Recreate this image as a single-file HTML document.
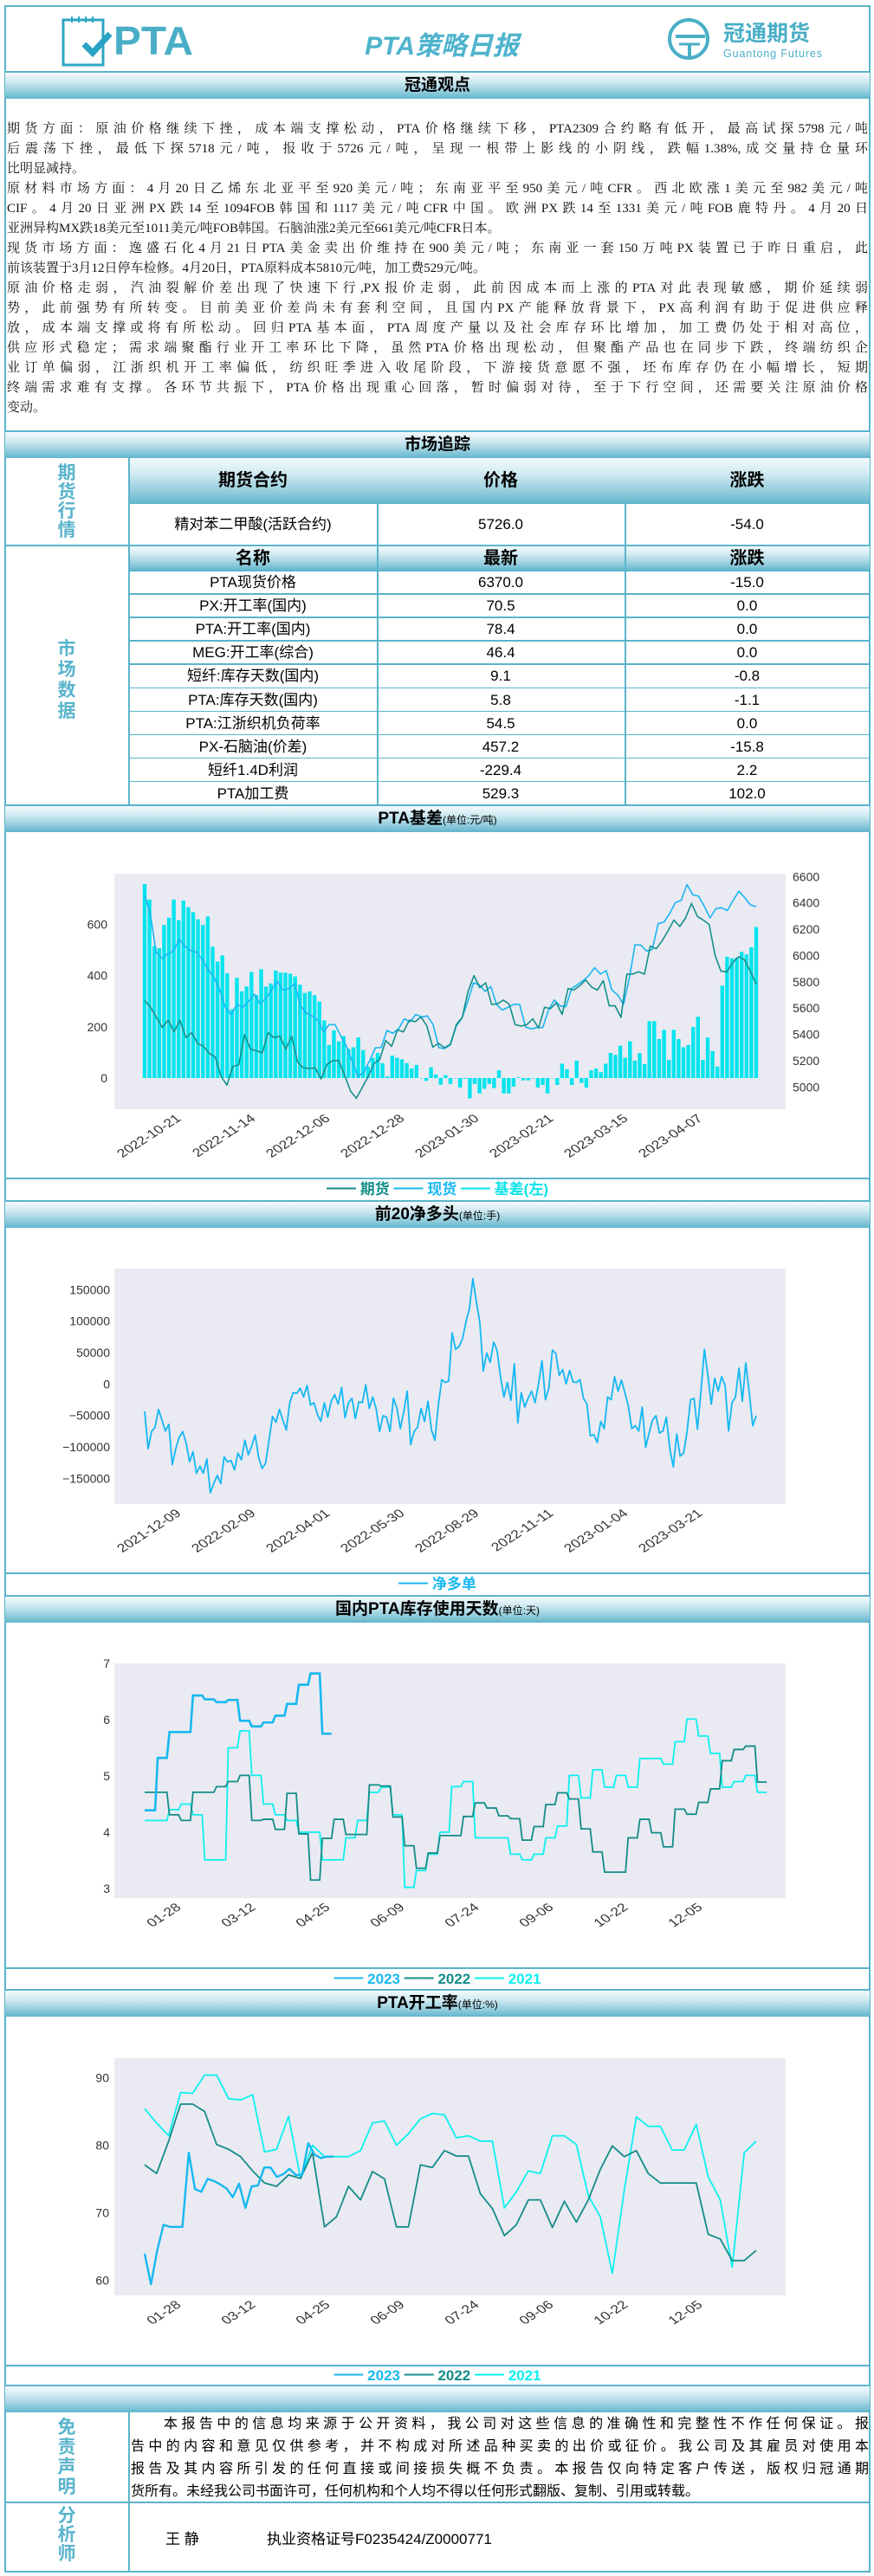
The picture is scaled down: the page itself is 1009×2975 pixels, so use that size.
<!DOCTYPE html>
<html lang="zh"><head><meta charset="utf-8">
<style>
*{margin:0;padding:0;box-sizing:border-box}
body{width:1009px;height:2975px;background:#fff;position:relative;font-family:"Liberation Sans","Noto Sans CJK SC",sans-serif;overflow:hidden}
.abs{position:absolute}
.band{position:absolute;left:6px;width:998px;background:linear-gradient(#f4fbfd,#cfe9f1 35%,#8fcbdc 75%,#62b5cd);text-align:center;font-weight:bold;color:#000;font-size:19px;border-top:2px solid #5ab4cc}
.band small{font-size:12px;font-weight:normal}
.hl{position:absolute;left:6px;width:998px;height:2px;background:#5ab4cc}
.vl{position:absolute;width:1.5px;background:#5ab4cc}
.txt div{white-space:nowrap;text-align:justify;text-align-last:justify;height:23px;line-height:23px}
.txt div.l{text-align-last:left}
.disc div{white-space:nowrap;text-align:justify;text-align-last:justify;height:26px;line-height:26px}
.disc div.l{text-align-last:left}
.cell{position:absolute;text-align:center;font-size:17px;color:#000}
.th{position:absolute;text-align:center;font-weight:bold;font-size:20px;background:linear-gradient(#f4fbfd,#cfe9f1 35%,#8fcbdc 75%,#62b5cd)}
.side{position:absolute;left:6px;width:142px;color:#5ab4cc;font-weight:bold;font-size:21px;text-align:center;line-height:22px}
.leg{position:absolute;left:6px;width:998px;text-align:center;font-weight:bold;font-size:17px}
</style></head><body>
<div class="abs" style="left:5px;top:6px;width:1000px;height:2965px;border:2px solid #5ab4cc"></div>

<div class="abs" style="left:71px;top:17px;width:160px;height:62px">
<svg width="160" height="62">
<rect x="2" y="6" width="46" height="52" fill="none" stroke="#2fa5c4" stroke-width="3"/>
<g stroke="#2fa5c4" stroke-width="2"><line x1="12" y1="2" x2="12" y2="9"/><line x1="20" y1="2" x2="20" y2="9"/><line x1="28" y1="2" x2="28" y2="9"/><line x1="36" y1="2" x2="36" y2="9"/></g>
<polyline points="26,34 36,44 56,22" fill="none" stroke="#2aa3c5" stroke-width="7"/>
<text x="60" y="46" font-size="46" font-weight="bold" fill="#4aaec7" font-family="Liberation Sans" textLength="92" lengthAdjust="spacingAndGlyphs">PTA</text>
</svg></div>
<div class="abs" style="left:400px;top:28px;width:220px;text-align:center;font-size:30px;font-weight:bold;font-style:italic;color:#4fb3cd">PTA策略日报</div>
<div class="abs" style="left:770px;top:20px;width:190px;height:52px">
<svg width="190" height="52">
<circle cx="25" cy="25" r="22" fill="none" stroke="#4aaec7" stroke-width="4"/>
<line x1="10" y1="22" x2="44" y2="22" stroke="#4aaec7" stroke-width="4"/><line x1="14" y1="31" x2="38" y2="31" stroke="#4aaec7" stroke-width="3"/><line x1="26" y1="31" x2="26" y2="46" stroke="#4aaec7" stroke-width="4"/>
<text x="65" y="27" font-size="25" font-weight="bold" fill="#4aaec7" font-family="Noto Sans CJK SC">冠通期货</text>
<text x="65" y="46" font-size="12.5" fill="#4aaec7" font-family="Liberation Sans" textLength="114">Guantong Futures</text>
</svg></div>

<div class="band" style="top:82px;height:32px;line-height:30px">冠通观点</div>
<div class="abs txt" style="left:8px;top:138px;width:994px;font-family:'Liberation Serif','Noto Serif CJK SC',serif;font-size:15px;color:#111">
<div>期货方面：原油价格继续下挫，成本端支撑松动，PTA价格继续下移，PTA2309合约略有低开，最高试探5798元/吨</div>
<div>后震荡下挫，最低下探5718元/吨，报收于5726元/吨，呈现一根带上影线的小阴线，跌幅1.38%,成交量持仓量环</div>
<div class="l">比明显减持。</div>
<div>原材料市场方面：4月20日乙烯东北亚平至920美元/吨；东南亚平至950美元/吨CFR。西北欧涨1美元至982美元/吨</div>
<div>CIF。4月20日亚洲PX跌14至1094FOB韩国和1117美元/吨CFR中国。欧洲PX跌14至1331美元/吨FOB鹿特丹。4月20日</div>
<div class="l">亚洲异构MX跌18美元至1011美元/吨FOB韩国。石脑油涨2美元至661美元/吨CFR日本。</div>
<div>现货市场方面：逸盛石化4月21日PTA美金卖出价维持在900美元/吨；东南亚一套150万吨PX装置已于昨日重启，此</div>
<div class="l">前该装置于3月12日停车检修。4月20日，PTA原料成本5810元/吨，加工费529元/吨。</div>
<div>原油价格走弱，汽油裂解价差出现了快速下行,PX报价走弱，此前因成本而上涨的PTA对此表现敏感，期价延续弱</div>
<div>势，此前强势有所转变。目前美亚价差尚未有套利空间，且国内PX产能释放背景下，PX高利润有助于促进供应释</div>
<div>放，成本端支撑或将有所松动。回归PTA基本面，PTA周度产量以及社会库存环比增加，加工费仍处于相对高位，</div>
<div>供应形式稳定；需求端聚酯行业开工率环比下降，虽然PTA价格出现松动，但聚酯产品也在同步下跌，终端纺织企</div>
<div>业订单偏弱，江浙织机开工率偏低，纺织旺季进入收尾阶段，下游接货意愿不强，坯布库存仍在小幅增长，短期</div>
<div>终端需求难有支撑。各环节共振下，PTA价格出现重心回落，暂时偏弱对待，至于下行空间，还需要关注原油价格</div>
<div class="l">变动。</div>
</div>

<div class="band" style="top:497px;height:32px;line-height:30px">市场追踪</div>
<div class="th" style="left:149px;top:529px;width:286px;height:53px;line-height:53px">期货合约</div>
<div class="th" style="left:435px;top:529px;width:286px;height:53px;line-height:53px">价格</div>
<div class="th" style="left:721px;top:529px;width:283px;height:53px;line-height:53px">涨跌</div>
<div class="cell" style="left:149px;top:582px;width:286px;line-height:48px">精对苯二甲酸(活跃合约)</div>
<div class="cell" style="left:435px;top:582px;width:286px;line-height:48px">5726.0</div>
<div class="cell" style="left:721px;top:582px;width:283px;line-height:48px">-54.0</div>
<div class="side" style="top:536px">期<br>货<br>行<br>情</div>
<div class="hl" style="top:629px"></div>
<div class="th" style="left:149px;top:631px;width:286px;height:28px;line-height:28px">名称</div>
<div class="th" style="left:435px;top:631px;width:286px;height:28px;line-height:28px">最新</div>
<div class="th" style="left:721px;top:631px;width:283px;height:28px;line-height:28px">涨跌</div>
<div class="side" style="top:738px;line-height:24px">市<br>场<br>数<br>据</div>
<div id="mrows"></div>
<div class="vl" style="left:148px;top:529px;height:401px"></div>
<div class="vl" style="left:435px;top:582px;height:348px"></div>
<div class="vl" style="left:721px;top:582px;height:348px"></div>

<div class="band" style="top:929px;height:32px;line-height:30px">PTA基差<small>(单位:元/吨)</small></div>
<div class="hl" style="top:1360px"></div>
<div class="leg" style="top:1363px;line-height:22px"><span style="color:#138d88">━━ 期货</span> <span style="color:#18b8f0">━━ 现货</span> <span style="color:#0de3ea">━━ 基差(左)</span></div>

<div class="band" style="top:1386px;height:32px;line-height:30px">前20净多头<small>(单位:手)</small></div>
<div class="hl" style="top:1816px"></div>
<div class="leg" style="top:1819px;line-height:22px"><span style="color:#18b8f0">━━ 净多单</span></div>

<div class="band" style="top:1842px;height:32px;line-height:30px">国内PTA库存使用天数<small>(单位:天)</small></div>
<div class="hl" style="top:2272px"></div>
<div class="leg" style="top:2275px;line-height:22px"><span style="color:#18b8f0">━━ 2023</span> <span style="color:#138d88">━━ 2022</span> <span style="color:#0df0f0">━━ 2021</span></div>

<div class="band" style="top:2297px;height:32px;line-height:30px">PTA开工率<small>(单位:%)</small></div>
<div class="hl" style="top:2731px"></div>
<div class="leg" style="top:2733px;line-height:22px"><span style="color:#18b8f0">━━ 2023</span> <span style="color:#138d88">━━ 2022</span> <span style="color:#0df0f0">━━ 2021</span></div>

<div class="band" style="top:2754px;height:32px"></div>
<div class="side" style="top:2792px;line-height:23px">免<br>责<br>声<br>明</div>
<div class="abs disc" style="left:151px;top:2787px;width:852px;font-size:16px;color:#000">
<div style="padding-left:38px">本报告中的信息均来源于公开资料，我公司对这些信息的准确性和完整性不作任何保证。报</div>
<div>告中的内容和意见仅供参考，并不构成对所述品种买卖的出价或征价。我公司及其雇员对使用本</div>
<div>报告及其内容所引发的任何直接或间接损失概不负责。本报告仅向特定客户传送，版权归冠通期</div>
<div class="l">货所有。未经我公司书面许可，任何机构和个人均不得以任何形式翻版、复制、引用或转载。</div>
</div>
<div class="hl" style="top:2889px"></div>
<div class="side" style="top:2895px;line-height:22px">分<br>析<br>师</div>
<div class="abs" style="left:191px;top:2918px;font-size:17px">王 静</div>
<div class="abs" style="left:308px;top:2918px;font-size:17px">执业资格证号F0235424/Z0000771</div>
<div class="vl" style="left:148px;top:2786px;height:184px"></div>

<svg id="charts" class="abs" style="left:0;top:0" width="1009" height="2975"></svg>

<script>
const mNames=["PTA现货价格","PX:开工率(国内)","PTA:开工率(国内)","MEG:开工率(综合)","短纤:库存天数(国内)","PTA:库存天数(国内)","PTA:江浙织机负荷率","PX-石脑油(价差)","短纤1.4D利润","PTA加工费"];
const mLatest=["6370.0","70.5","78.4","46.4","9.1","5.8","54.5","457.2","-229.4","529.3"];
const mChange=["-15.0","0.0","0.0","0.0","-0.8","-1.1","0.0","-15.8","2.2","102.0"];

const basisTicks=["2022-10-21","2022-11-14","2022-12-06","2022-12-28","2023-01-30","2023-02-21","2023-03-15","2023-04-07"];
const basisLeftTicks=[0,200,400,600];
const basisRightTicks=[5000,5200,5400,5600,5800,6000,6200,6400,6600];
const basisValues=[756,696,515,506,597,625,696,616,692,666,647,619,597,630,512,454,478,409,268,391,338,357,414,324,424,357,369,419,411,411,407,396,364,332,338,323,298,225,129,186,143,163,113,120,158,109,45,79,98,58,6,87,79,73,58,37,51,0,-11,42,14,-26,11,-23,0,-37,-3,-79,-23,-60,-42,-23,-39,30,-60,-60,-33,3,-9,-9,0,-37,-27,-60,0,-27,56,34,-27,68,-19,-37,30,37,23,56,98,90,126,79,143,68,97,54,222,222,152,188,71,188,152,120,129,199,239,71,158,105,45,360,473,467,469,492,482,510,589];
const spotValues=[6460,6308,6022,5979,6012,6034,6122,6067,6038,6023,5968,5891,5836,5737,5606,5551,5628,5606,5650,5705,5632,5672,5737,5803,5737,5748,5785,5617,5562,5540,5507,5419,5474,5474,5386,5309,5189,5079,5112,5200,5298,5298,5430,5408,5441,5518,5496,5551,5533,5540,5474,5298,5292,5320,5463,5522,5650,5792,5777,5727,5764,5628,5584,5606,5628,5628,5457,5441,5452,5452,5584,5661,5617,5610,5748,5777,5808,5847,5907,5858,5885,5737,5698,5628,5825,6082,6078,6034,6045,6242,6253,6319,6403,6418,6539,6462,6451,6374,6286,6356,6363,6341,6418,6488,6440,6385,6370];
const futValues=[5658,5606,5529,5452,5507,5419,5507,5375,5412,5331,5309,5254,5228,5079,5013,5156,5167,5397,5287,5276,5259,5413,5375,5386,5287,5386,5189,5145,5141,5145,5061,5171,5200,5200,5090,4969,4914,4996,5079,5178,5211,5353,5309,5434,5419,5507,5496,5533,5463,5303,5331,5298,5325,5474,5529,5727,5847,5755,5792,5628,5632,5661,5628,5474,5463,5474,5518,5448,5606,5595,5639,5551,5748,5737,5770,5814,5759,5737,5808,5617,5617,5529,5858,5858,5876,5858,6071,6051,6111,6187,6269,6220,6286,6396,6297,6269,6236,6001,5880,5874,5946,5990,5968,5880,5781];

const netTicks=["2021-12-09","2022-02-09","2022-04-01","2022-05-30","2022-08-29","2022-11-11","2023-01-04","2023-03-21"];
const netYTicks=[-150000,-100000,-50000,0,50000,100000,150000];
const netValues=[-43600,-103000,-75700,-68800,-40400,-57300,-74800,-64200,-128400,-103000,-84900,-75700,-94000,-123800,-107800,-142000,-130700,-142000,-119300,-172900,-158300,-145400,-158300,-116000,-123800,-121600,-136700,-110100,-120600,-89400,-112400,-98600,-81200,-117000,-134400,-126100,-89400,-51800,-61000,-40400,-57300,-73400,-29800,-13800,-15100,-6900,-20600,-2300,-33500,-29800,-48200,-59600,-29800,-52800,-27500,-17000,-32100,-5500,-53700,-29800,-22900,-55000,-28400,-29800,-1400,-39000,-20600,-39000,-75700,-50500,-52800,-75700,-22900,-38100,-71100,-43600,-11500,-96300,-75700,-68800,-39000,-59600,-27500,-73400,-89400,-34400,6900,2300,4600,81200,55000,59600,72000,98600,119300,167400,130700,98600,20600,49100,34400,66500,53700,11500,-20600,2300,-26100,32100,-61900,-13800,-36700,-22900,-11500,-29800,0,36700,-25200,-6000,53700,48200,13800,22900,0,21600,3200,2300,6900,-22900,-32100,-82600,-80300,-93100,-59600,-71100,-20600,-25200,11500,-11500,6000,-13800,-35300,-71100,-66500,-74800,-36700,-100900,-78000,-57300,-50500,-78000,-74800,-52800,-103000,-131900,-79400,-114700,-110100,-75700,-25200,-22900,-72000,-12400,55000,13800,-32100,9200,-11500,11500,-2300,-74800,-29800,-20600,25200,-27500,33500,-13800,-66500,-50500];

const seasonTicks=["01-28","03-12","04-25","06-09","07-24","09-06","10-22","12-05"];
const invYTicks=[3,4,5,6,7];
const inv2023=[4.39,5.32,5.78,5.78,6.43,6.36,6.31,6.35,5.98,5.88,5.95,6.07,6.28,6.62,6.82,5.75];
const inv2022=[4.71,4.71,4.31,4.21,4.71,4.71,4.81,4.90,5.01,4.21,4.23,4.05,4.69,3.97,3.15,3.89,4.23,3.96,3.96,4.84,4.82,4.27,3.76,3.36,3.63,3.94,3.94,4.28,4.52,4.43,4.29,4.24,3.86,4.10,4.49,4.70,4.59,4.06,3.65,3.29,3.29,3.90,4.23,3.99,3.74,4.41,4.32,4.53,4.77,5.27,5.47,5.53,4.89];
const inv2021=[4.21,4.21,4.40,4.50,4.31,3.51,3.51,5.50,5.80,5.01,4.50,4.31,4.21,4.00,4.00,3.51,3.51,3.90,4.21,4.71,4.80,4.31,3.02,3.32,3.61,4.00,4.81,4.90,3.90,3.90,3.90,3.61,3.51,3.61,3.90,4.11,5.01,4.61,5.11,4.80,5.01,4.80,5.31,5.31,5.21,5.61,6.01,5.71,5.40,4.80,4.90,5.01,4.71];

const utilYTicks=[60,70,80,90];
const util2023=[63.9,59.4,64.4,68.2,67.9,67.9,67.9,78.9,73.5,73.1,75.0,74.7,74.2,73.6,72.3,74.3,70.7,73.9,74.0,76.7,76.7,75.3,75.7,76.5,75.6,75.6,80.3,78.6,78.1,78.3,78.3];
const util2022=[77.1,75.8,80.6,86.1,86.1,85.0,80.1,79.4,78.3,76.2,74.4,73.9,75.6,75.1,78.9,67.9,69.4,73.9,71.9,76.1,75.0,67.9,67.9,77.1,76.7,79.2,78.4,78.4,72.8,70.6,66.6,68.2,71.9,71.9,67.8,71.7,68.6,71.9,76.4,79.9,78.3,79.2,75.8,74.4,74.4,74.4,74.4,66.8,66.1,62.9,62.9,64.4];
const util2021=[85.4,83.3,81.4,87.8,87.7,90.4,90.4,86.9,86.7,87.5,79.0,79.4,84.3,75.1,80.0,78.3,78.3,78.3,79.2,83.3,83.6,80.0,81.7,83.9,84.7,84.5,81.1,81.4,80.6,80.6,70.7,73.1,76.2,75.8,81.4,81.4,80.1,72.5,69.4,61.0,73.3,84.2,82.8,82.8,79.3,79.3,83.1,75.3,71.9,61.9,78.9,80.6];

const mr=document.getElementById('mrows');
for(let i=0;i<mNames.length;i++){
  const top=659+i*27.1;
  const a=document.createElement('div');a.className='cell';a.style.cssText=`left:149px;top:${top}px;width:286px;line-height:27px`;a.textContent=mNames[i];
  
  
  const b=document.createElement('div');b.className='cell';b.style.cssText=`left:435px;top:${top}px;width:286px;line-height:27px`;b.textContent=mLatest[i];
  
  
  const c=document.createElement('div');c.className='cell';c.style.cssText=`left:721px;top:${top}px;width:283px;line-height:27px`;c.textContent=mChange[i];
  
  
  const l=document.createElement('div');l.className='hl';l.style.cssText=`left:149px;width:855px;top:${top-1}px;height:1.5px`;
  
  
  mr.append(a,b,c,l);
}

const NS='http://www.w3.org/2000/svg';
const svg=document.getElementById('charts');
function el(tag,props){const e=document.createElementNS(NS,tag);for(const k in props)e.setAttribute(k,props[k]);svg.appendChild(e);return e;}
const PL=132,PR=907,X0=167,X1=873;
function xIdx(i,n){return X0+i*(X1-X0)/(n-1);}
function plotBg(top,bottom){const r=el('rect',{x:PL,y:top,width:PR-PL,height:bottom-top,fill:'#eaeaf2'});
  
  }
function xTicks(labels,yb){labels.forEach((t,k)=>{const x=210+k*86;
  const e=el('text',{transform:`translate(${x},${yb+12}) scale(1.3,1) rotate(-40)`,'text-anchor':'end','font-size':13.5,fill:'#333','font-family':'Liberation Sans'});e.textContent=t;
  
  });}
function yTick(txt,x,y,anchor){const e=el('text',{x:x,y:y+5,'text-anchor':anchor,'font-size':14,fill:'#333','font-family':'Liberation Sans'});e.textContent=txt;
  
  }
function line(vals,n,xf,yf,color,w,name){let d='';vals.forEach((v,i)=>{d+=(i?'L':'M')+xf(i,n).toFixed(1)+','+yf(v).toFixed(1);});
  const p=el('path',{d:d,fill:'none',stroke:color,'stroke-width':w,'stroke-linejoin':'round'});
  
  }
function stepLine(vals,xf,yf,color,w,name){let d='';vals.forEach((v,i)=>{const x=xf(i),y=yf(v);
  if(i===0)d+='M'+x+','+y;else d+='L'+(x+1.5)+','+y;d+='L'+(xf(i+1)-1.5)+','+y;});
  const p=el('path',{d:d,fill:'none',stroke:color,'stroke-width':w});
  
  }

const c1T=1009,c1B=1281;
const yL=v=>1245-v*177.7/600, yR=v=>1255.3-(v-5000)*243/1600;
plotBg(c1T,c1B);
basisLeftTicks.forEach(v=>yTick(String(v),124,yL(v),'end'));
basisRightTicks.forEach(v=>yTick(String(v),915,yR(v),'start'));
const bw=(X1-X0)/(basisValues.length-1)*0.78;
basisValues.forEach((v,i)=>{const x=xIdx(i,basisValues.length);const y0=yL(0),y1=yL(v);
  const r=el('rect',{x:(x-bw/2).toFixed(1),y:Math.min(y0,y1).toFixed(1),width:bw.toFixed(1),height:Math.max(0.5,Math.abs(y1-y0)).toFixed(1),fill:'#05e4ee'});
  
  });
line(spotValues,spotValues.length,xIdx,yR,'#1ab6f2',1.6,'spot-line');
line(futValues,futValues.length,xIdx,yR,'#14908a',1.6,'futures-line');
xTicks(basisTicks,c1B);

const c2T=1465,c2B=1737;const yN=v=>1598.3-v*218/300000;
plotBg(c2T,c2B);
netYTicks.forEach(v=>yTick(String(v).replace('-','\u2212'),127,yN(v),'end'));
line(netValues,netValues.length,xIdx,yN,'#14b8f2',1.8,'net-long-line');
xTicks(netTicks,c2B);

const c3T=1921,c3B=2192;const yI=v=>1921+(7-v)*65;const xW=i=>X0+i*(X1-X0)/52;
plotBg(c3T,c3B);
invYTicks.forEach(v=>yTick(String(v),127,yI(v),'end'));
stepLine(inv2021,xW,yI,'#0df0f0',1.8,'inventory-2021-line');
stepLine(inv2022,xW,yI,'#138d88',1.8,'inventory-2022-line');
stepLine(inv2023,xW,yI,'#18b8f0',2.6,'inventory-2023-line');
xTicks(seasonTicks,c3B);

const c4T=2377,c4B=2651;const yU=v=>2399.6+(90-v)*7.79;
const xU=(i,n)=>X0+i*(X1-X0)/51;
plotBg(c4T,c4B);
utilYTicks.forEach(v=>yTick(String(v),126,yU(v),'end'));
line(util2021,util2021.length,xU,yU,'#0df0f0',1.8,'utilization-2021-line');
line(util2022,util2022.length,xU,yU,'#138d88',1.8,'utilization-2022-line');
const xU3=(i,n)=>X0+i*(385-X0)/30;
line(util2023,util2023.length,xU3,yU,'#18b8f0',2.4,'utilization-2023-line');
xTicks(seasonTicks,c4B);
</script>
</body></html>
